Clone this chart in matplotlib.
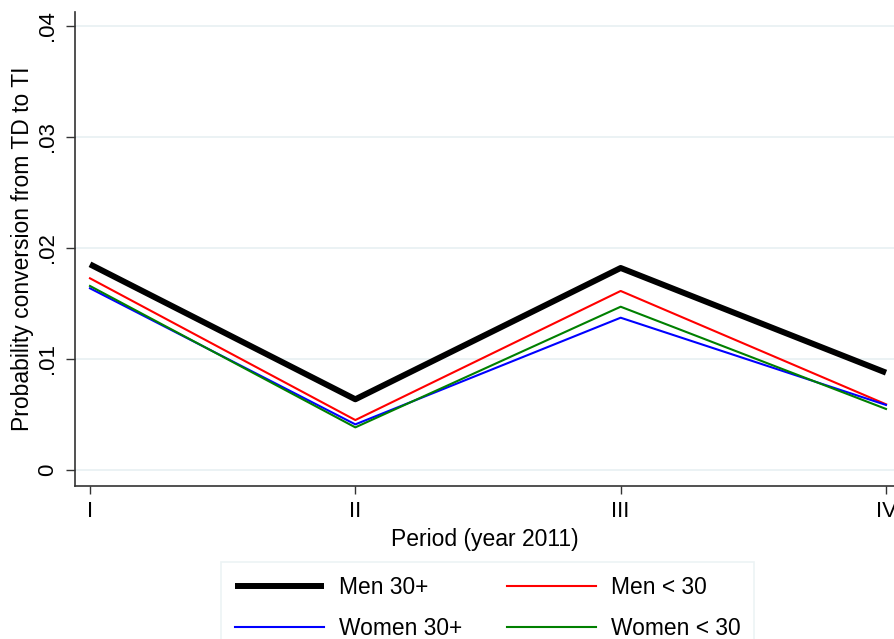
import matplotlib.pyplot as plt

plt.rcParams['font.family'] = ['Liberation Sans', 'DejaVu Sans']

periods = [1, 2, 3, 4]
period_labels = ['I', 'II', 'III', 'IV']

men_30plus = [0.01853, 0.00637, 0.0182, 0.00877]
men_under30 = [0.01727, 0.0045, 0.01613, 0.00592]
women_30plus = [0.01637, 0.00411, 0.01372, 0.00586]
women_under30 = [0.01658, 0.00384, 0.01471, 0.0055]

fig = plt.figure(figsize=(8.95, 6.39), dpi=100)
ax = fig.add_axes([75/895, 1-486/639, 1-75/895, (486-12)/639])

l1, = ax.plot(periods, men_30plus, color='black', lw=4.3, label='Men 30+', solid_capstyle='butt')
l2, = ax.plot(periods, men_under30, color='#ff0000', lw=1.5, label='Men < 30')
l3, = ax.plot(periods, women_30plus, color='#0000ff', lw=1.5, label='Women 30+')
l4, = ax.plot(periods, women_under30, color='#008000', lw=1.5, label='Women < 30')

ax.set_xlim(1 - 15/265.5, 4 + 9/265.5)
ax.set_ylim(-16/11100, 458/11100)
ax.set_yticks([0, 0.01, 0.02, 0.03, 0.04])
ax.set_yticklabels(['0', '.01', '.02', '.03', '.04'], rotation=90, va='center')
ax.set_xticks(periods)
ax.set_xticklabels(period_labels)
ax.tick_params(axis='both', labelsize=16, direction='out', color='#333333')
ax.tick_params(axis='y', length=6.5, width=1, pad=6)
ax.tick_params(axis='x', length=6, width=1, pad=5)

ax.grid(axis='y', color='#e8f0f2', lw=1.2)
ax.set_axisbelow(True)
for side in ['top', 'right']:
    ax.spines[side].set_visible(False)
for side in ['left', 'bottom']:
    ax.spines[side].set_color('#333333')
    ax.spines[side].set_linewidth(1.2)

ax.set_xlabel('Period (year 2011)', fontsize=16.5, labelpad=4)
ax.set_ylabel('Probability conversion from TD to TI', fontsize=16.5, labelpad=2)

# legend filled column by column, so order handles to read row-wise
leg = fig.legend([l1, l3, l2, l4], [l1.get_label(), l3.get_label(), l2.get_label(), l4.get_label()],
                 ncol=2, loc='upper center', bbox_to_anchor=(487.5/895, 1-562/639),
                 fontsize=16.4, frameon=True, fancybox=False, handlelength=3.9,
                 handletextpad=0.66, columnspacing=1.97, labelspacing=0.8,
                 borderpad=0.6, borderaxespad=0)
leg.get_frame().set_edgecolor('#e8f0f2')
leg.get_frame().set_linewidth(1.2)

fig.savefig('out.png', dpi=100)
